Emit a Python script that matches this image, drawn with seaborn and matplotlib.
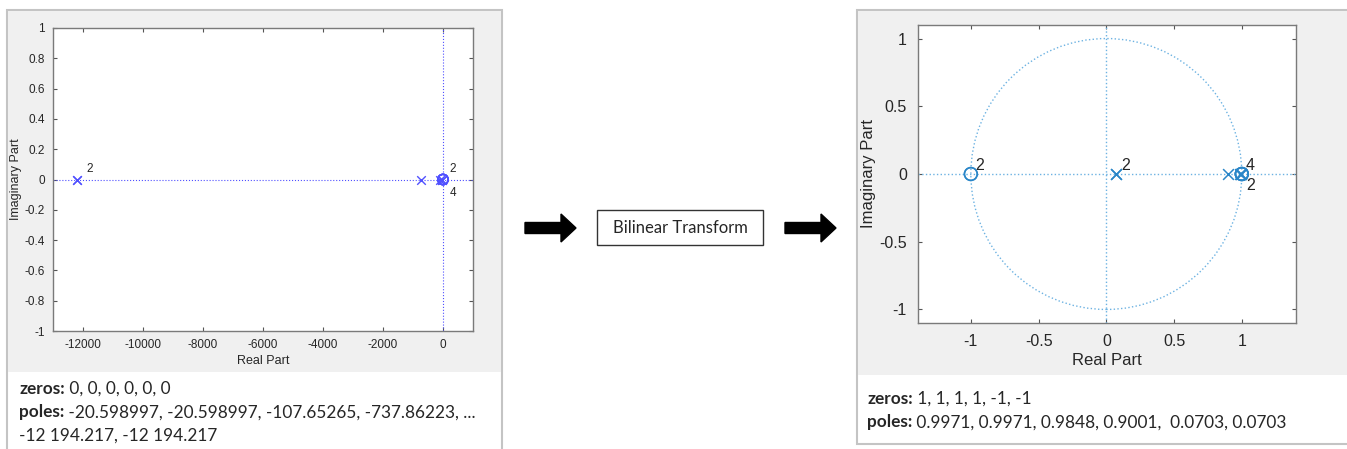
import numpy as np
import pandas as pd
import matplotlib
matplotlib.use("Agg")
import matplotlib.pyplot as plt
import seaborn as sns
from matplotlib.patches import Rectangle, Circle, FancyArrow
from matplotlib.ticker import FormatStrFormatter

# analog filter (s-plane)
s_zeros = [0, 0, 0, 0, 0, 0]
s_poles = [-20.598997, -20.598997, -107.65265, -737.86223, -12194.217, -12194.217]
s_xticks = [-12000, -10000, -8000, -6000, -4000, -2000, 0]
s_yticks = [-1, -0.8, -0.6, -0.4, -0.2, 0, 0.2, 0.4, 0.6, 0.8, 1]

# digital filter (z-plane) after bilinear transform
z_zeros = [1, 1, 1, 1, -1, -1]
z_poles = [0.9971, 0.9971, 0.9848, 0.9001, 0.0703, 0.0703]
z_ticks = [-1, -0.5, 0, 0.5, 1]

s_zeros_txt = "0, 0, 0, 0, 0, 0"
s_poles_txt = "-20.598997, -20.598997, -107.65265, -737.86223, ..."
s_poles_txt2 = "-12 194.217, -12 194.217"
z_zeros_txt = "1, 1, 1, 1, -1, -1"
z_poles_txt = "0.9971, 0.9971, 0.9848, 0.9001,  0.0703, 0.0703"

sns.set_style("white")
plt.rcParams['font.family'] = ['Liberation Sans', 'DejaVu Sans']
plt.rcParams['axes.unicode_minus'] = False
TXT = ["Lato", "DejaVu Sans"]

W, H = 1347, 449
fig = plt.figure(figsize=(W / 100, H / 100), dpi=100)
fig.patch.set_facecolor("white")

# background canvas in pixel coords
bg = fig.add_axes([0, 0, 1, 1], zorder=0)
bg.set_xlim(0, W)
bg.set_ylim(H, 0)
bg.axis("off")
bg.add_patch(Rectangle((7, 10), 495, 500, fc="white", ec="#c4c4c4", lw=1.5))
bg.add_patch(Rectangle((8, 11), 493, 361, fc="#f0f0f0", ec="none"))
bg.add_patch(Rectangle((857, 10), 600, 434, fc="white", ec="#c4c4c4", lw=1.5))
bg.add_patch(Rectangle((858, 11), 600, 364, fc="#f0f0f0", ec="none"))

# arrows + box
for x0, x1 in [(525, 576), (785, 836)]:
    bg.add_patch(FancyArrow(x0, 228, x1 - x0, 0, width=11, head_width=28,
                            head_length=15, length_includes_head=True,
                            fc="black", ec="black"))
bg.add_patch(Rectangle((597, 210), 166, 35, fc="white", ec="#333333", lw=1))
bg.text(680, 228, "Bilinear Transform", ha="center", va="center",
        fontsize=12, family=TXT)


def info(x, y, z_txt, p_txt, extra=None):
    for i, (lab, val) in enumerate([("zeros:", z_txt), ("poles:", p_txt)]):
        t = bg.text(x, y + i * 23.5, lab, fontsize=12.4, fontweight="bold",
                    family=TXT, va="baseline")
        bg.annotate(" " + val, xy=(1, 0), xycoords=t, va="bottom",
                    fontsize=12.4, family=TXT)
    if extra:
        bg.text(x, y + 47, extra, fontsize=12.4, family=TXT, va="baseline")


def style_axes(ax, fs, pad):
    ax.set_facecolor("white")
    for s in ax.spines.values():
        s.set_color("#7a7a7a")
        s.set_linewidth(1.0)
    ax.tick_params(direction="in", length=3, width=0.8, color="#555555",
                   top=True, right=True, labelsize=fs, labelcolor="#262626",
                   bottom=True, left=True, pad=pad)


# ---- left: s-plane ----
ax1 = fig.add_axes([53 / W, 1 - 331 / H, 420 / W, 303 / H], zorder=1)
c1 = "#5050ff"
ax1.axhline(0, color=c1, ls=":", lw=0.8)
ax1.axvline(0, color=c1, ls=":", lw=0.8)
df_p = pd.DataFrame({"re": s_poles, "im": np.zeros(len(s_poles))})
df_z = pd.DataFrame({"re": s_zeros, "im": np.zeros(len(s_zeros))})
sns.scatterplot(data=df_p, x="re", y="im", marker="x", s=38, color=c1,
                linewidth=1.0, ax=ax1, zorder=3)
sns.scatterplot(data=df_z, x="re", y="im", marker="o", s=55, facecolor="none",
                edgecolor=c1, linewidth=1.0, ax=ax1, zorder=3)
ax1.text(s_poles[-1] + 300, 0.05, "2", fontsize=8.5, color="#262626")
ax1.text(220, 0.05, "2", fontsize=8.5, color="#262626")
ax1.text(220, -0.05, "4", fontsize=8.5, color="#262626", va="top")
ax1.set_xlim(-13000, 1000)
ax1.set_ylim(-1, 1)
ax1.set_xticks(s_xticks)
ax1.set_yticks(s_yticks)
ax1.yaxis.set_major_formatter(FormatStrFormatter("%g"))
ax1.xaxis.set_major_formatter(FormatStrFormatter("%g"))
style_axes(ax1, 8.5, 6)
ax1.set_xlabel("Real Part", fontsize=9, color="#262626", labelpad=3)
ax1.set_ylabel("Imaginary Part", fontsize=9, color="#262626", labelpad=2)

# ---- right: z-plane ----
ax2 = fig.add_axes([918 / W, 1 - 323 / H, 378 / W, 298 / H], zorder=1)
c2 = "#2a86c8"
cl = "#6cb2e2"
ax2.axhline(0, color=cl, ls=":", lw=1.0)
ax2.axvline(0, color=cl, ls=":", lw=1.0)
ax2.add_patch(Circle((0, 0), 1, fill=False, ec=cl, ls=":", lw=1.0))
df_p2 = pd.DataFrame({"re": z_poles, "im": np.zeros(len(z_poles))})
df_z2 = pd.DataFrame({"re": z_zeros, "im": np.zeros(len(z_zeros))})
sns.scatterplot(data=df_p2, x="re", y="im", marker="x", s=60, color=c2,
                linewidth=1.1, ax=ax2, zorder=3)
sns.scatterplot(data=df_z2, x="re", y="im", marker="o", s=85, facecolor="none",
                edgecolor=c2, linewidth=1.1, ax=ax2, zorder=3)
ax2.text(-0.97, 0.03, "2", fontsize=11.5, color="#262626")
ax2.text(0.11, 0.03, "2", fontsize=11.5, color="#262626")
ax2.text(1.03, 0.03, "4", fontsize=11.5, color="#262626")
ax2.text(1.03, -0.03, "2", fontsize=11.5, color="#262626", va="top")
ax2.set_xlim(-1.39, 1.4)
ax2.set_ylim(-1.1, 1.1)
ax2.set_xticks(z_ticks)
ax2.set_yticks(z_ticks)
ax2.xaxis.set_major_formatter(FormatStrFormatter("%g"))
ax2.yaxis.set_major_formatter(FormatStrFormatter("%g"))
style_axes(ax2, 11.5, 8)
ax2.set_xlabel("Real Part", fontsize=12, color="#262626", labelpad=3)
ax2.set_ylabel("Imaginary Part", fontsize=12, color="#262626", labelpad=2)

info(19, 394, s_zeros_txt, s_poles_txt, s_poles_txt2)
info(867, 404, z_zeros_txt, z_poles_txt)

fig.savefig("out.png", dpi=100, facecolor="white")
